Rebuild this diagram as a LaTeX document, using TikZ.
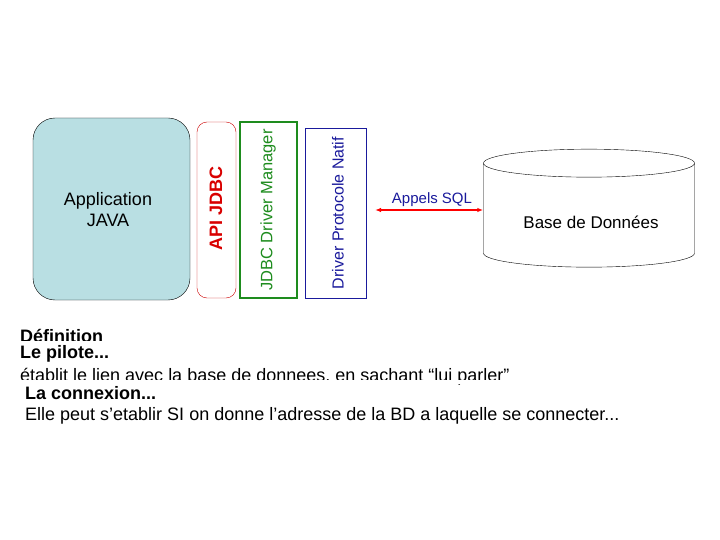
\documentclass[tikz,border=0pt]{standalone}
\usepackage{fontspec}
\setmainfont{Liberation Sans}
\usetikzlibrary{shapes.geometric,arrows.meta}
\definecolor{appblue}{HTML}{B9DFE3}
\definecolor{navy}{HTML}{1A1A9C}
\definecolor{dgreen}{HTML}{1E8C1E}
\begin{document}
\begin{tikzpicture}[x=1pt,y=-1pt,
  lbl/.style={rotate=90},
  txt/.style={anchor=west,inner sep=0,font=\fontsize{18}{18}\selectfont},
  hd/.style={anchor=west,inner sep=0,font=\fontsize{18}{18}\selectfont\bfseries}]
\useasboundingbox (0,0) rectangle (720,540);
\fill[white] (0,0) rectangle (720,540);
\draw[fill=appblue,rounded corners=22] (33,118) rectangle (190,300);
\node[align=center,font=\fontsize{18}{21}\selectfont] (app) at (108,210) {Application\\JAVA};
\draw[red!80!black,rounded corners=10] (197,122) rectangle (236,298);
\node[lbl,red!85!black,font=\fontsize{18}{18}\selectfont\bfseries] (api) at (216,208) {API JDBC};
\draw[dgreen,line width=2.5] (240,122) rectangle (297,298);
\node[lbl,dgreen,font=\fontsize{16.5}{16.5}\selectfont] (mgr) at (268,210) {JDBC Driver Manager};
\draw[navy] (305,128) rectangle (366,298);
\node[lbl,navy,font=\fontsize{16}{16}\selectfont] (drv) at (338,213) {Driver Protocole Natif};
\node[cylinder,shape border rotate=90,draw,minimum width=211,minimum height=118,aspect=4.2] (db) at (589,217) {};
\node[font=\fontsize{17}{17}\selectfont] at (591,222) {Base de Données};
\coordinate (a1) at (375,210);
\draw[red,line width=1.5,{Latex[length=6pt]}-{Latex[length=6pt]}] (a1) -- (db.west|-a1);
\node[navy,font=\fontsize{15}{15}\selectfont] (sql) at (432,200) {Appels SQL};
\node[hd] (def) at (20,336) {Définition};
\fill[white] (0,341) rectangle (720,345);
\node[hd] (pil) at (20,354) {Le pilote...};
\node[txt] (eta) at (20,377) {établit le lien avec la base de donnees, en sachant “lui parler"};
\fill[white] (0,380) rectangle (720,384);
\node[hd] (cnx) at (25,393) {La connexion...};
\node[txt] (elle) at (25,416) {Elle peut s'etablir SI on donne l'adresse de la BD a laquelle se connecter...};
\end{tikzpicture}
\end{document}
